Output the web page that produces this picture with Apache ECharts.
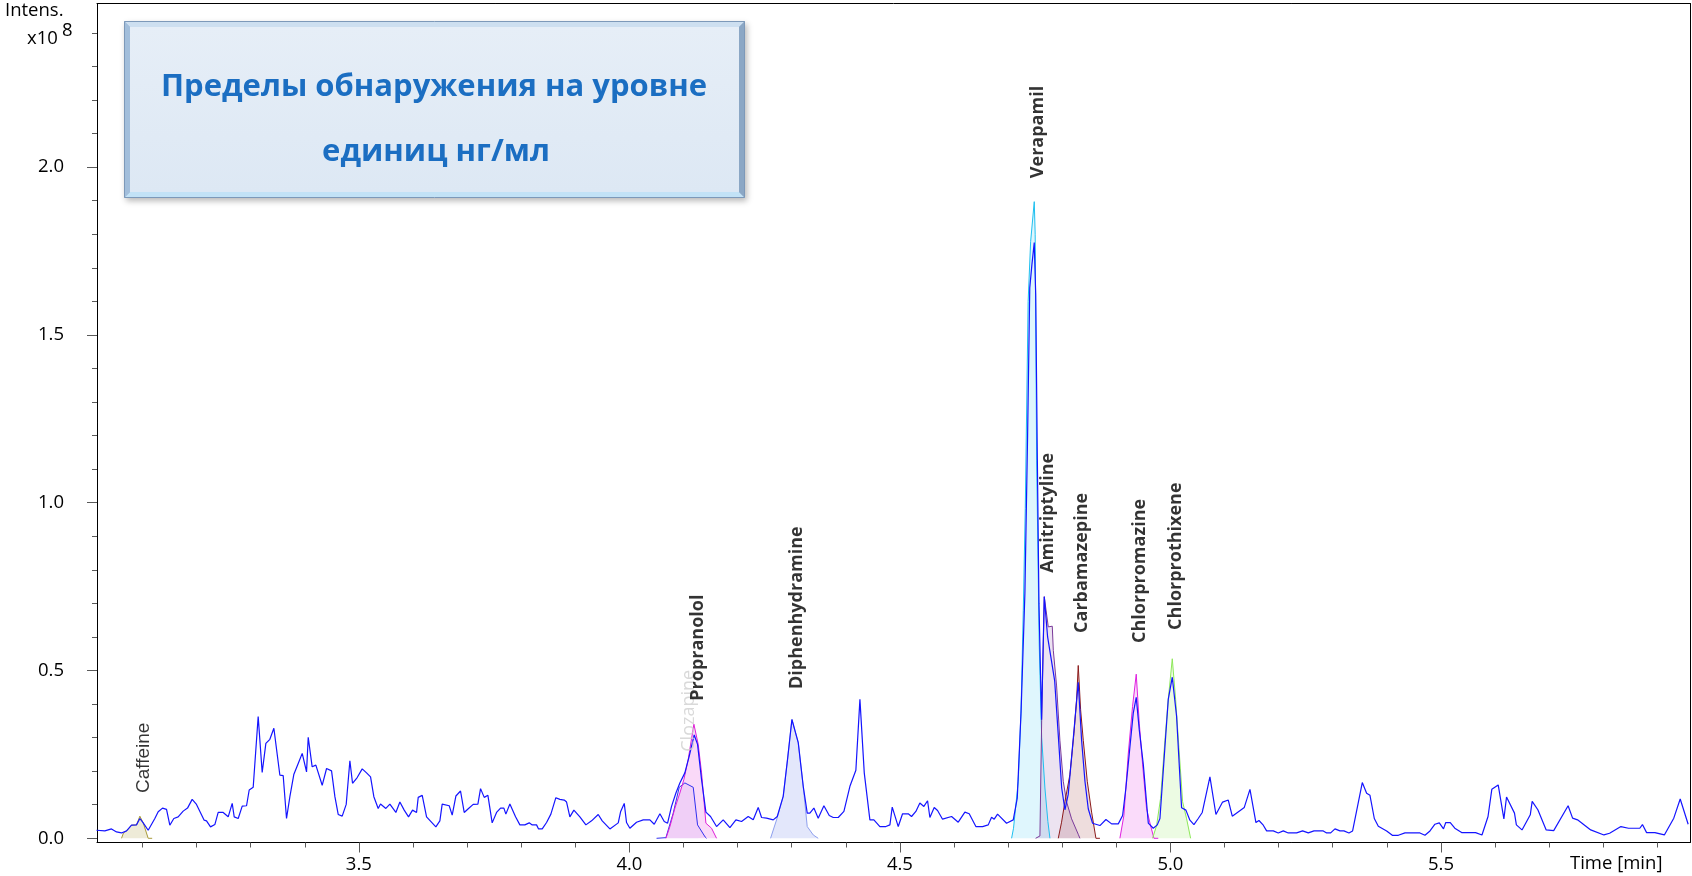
<!DOCTYPE html>
<html>
<head>
<meta charset="utf-8">
<script src="https://cdn.jsdelivr.net/npm/echarts@6/dist/echarts.min.js"></script>
<style>
  html, body { margin: 0; padding: 0; background: #ffffff; }
  #chart { width: 1692px; height: 876px; }
</style>
</head>
<body>
<div id="chart"></div>
<script>
// Total ion chromatogram: retention time [min] and intensity [x10^8]
const ticTime = [
  3.0151, 3.0305, 3.0428, 3.0521, 3.0613, 3.0706, 3.0798, 3.0890, 3.0952, 3.1014,
  3.1106, 3.1229, 3.1291, 3.1371, 3.1445, 3.1506, 3.1580, 3.1660, 3.1753, 3.1833,
  3.1919, 3.1999, 3.2141, 3.2184, 3.2258, 3.2338, 3.2400, 3.2492, 3.2585, 3.2659,
  3.2696, 3.2770, 3.2844, 3.2924, 3.2973, 3.3047, 3.3139, 3.3213, 3.3281, 3.3355,
  3.3429, 3.3540, 3.3601, 3.3663, 3.3725, 3.3799, 3.3879, 3.3953, 3.4033, 3.4064,
  3.4137, 3.4205, 3.4322, 3.4403, 3.4495, 3.4557, 3.4618, 3.4692, 3.4766, 3.4834,
  3.4883, 3.4969, 3.5062, 3.5142, 3.5216, 3.5277, 3.5357, 3.5400, 3.5499, 3.5573,
  3.5684, 3.5758, 3.5838, 3.5918, 3.5992, 3.6066, 3.6097, 3.6171, 3.6251, 3.6423,
  3.6497, 3.6540, 3.6670, 3.6725, 3.6793, 3.6879, 3.6947, 3.7027, 3.7113, 3.7200,
  3.7249, 3.7317, 3.7385, 3.7464, 3.7545, 3.7619, 3.7680, 3.7717, 3.7791, 3.7896,
  3.7976, 3.8068, 3.8149, 3.8204, 3.8284, 3.8321, 3.8389, 3.8469, 3.8549, 3.8641,
  3.8715, 3.8796, 3.8839, 3.8900, 3.8974, 3.9085, 3.9196, 3.9301, 3.9424, 3.9498,
  3.9640, 3.9794, 3.9837, 3.9905, 3.9947, 4.0009, 4.0132, 4.0256, 4.0379, 4.0459,
  4.0564, 4.0644, 4.0706, 4.0779, 4.0860, 4.0933, 4.1025, 4.1106, 4.1198, 4.1260,
  4.1334, 4.1414, 4.1500, 4.1611, 4.1734, 4.1858, 4.1969, 4.2073, 4.2196, 4.2289,
  4.2381, 4.2443, 4.2535, 4.2659, 4.2733, 4.2843, 4.2923, 4.3004, 4.3121, 4.3213,
  4.3287, 4.3336, 4.3410, 4.3490, 4.3595, 4.3694, 4.3768, 4.3860, 4.3965, 4.4076,
  4.4186, 4.4261, 4.4341, 4.4445, 4.4519, 4.4630, 4.4741, 4.4815, 4.4858, 4.4969,
  4.5049, 4.5154, 4.5215, 4.5295, 4.5369, 4.5443, 4.5511, 4.5554, 4.5634, 4.5696,
  4.5788, 4.5955, 4.6078, 4.6201, 4.6281, 4.6404, 4.6528, 4.6633, 4.6694, 4.6743,
  4.6805, 4.6971, 4.7095, 4.7169, 4.7240, 4.7310, 4.7360, 4.7400, 4.7440, 4.7483,
  4.7510, 4.7540, 4.7570, 4.7618, 4.7668, 4.7730, 4.7800, 4.7860, 4.7930, 4.7990,
  4.8050, 4.8110, 4.8173, 4.8235, 4.8296, 4.8358, 4.8420, 4.8481, 4.8560, 4.8697,
  4.8808, 4.8913, 4.9036, 4.9116, 4.9177, 4.9251, 4.9313, 4.9368, 4.9424, 4.9498,
  4.9591, 4.9683, 4.9757, 4.9806, 4.9898, 4.9960, 5.0034, 5.0114, 5.0206, 5.0286,
  5.0360, 5.0434, 5.0514, 5.0588, 5.0730, 5.0841, 5.0964, 5.1069, 5.1143, 5.1365,
  5.1470, 5.1580, 5.1636, 5.1716, 5.1778, 5.1901, 5.1993, 5.2086, 5.2178, 5.2332,
  5.2443, 5.2548, 5.2653, 5.2825, 5.2887, 5.2961, 5.3041, 5.3133, 5.3207, 5.3299,
  5.3367, 5.3546, 5.3626, 5.3688, 5.3768, 5.3842, 5.3996, 5.4101, 5.4212, 5.4335,
  5.4612, 5.4704, 5.4797, 5.4889, 5.4969, 5.5047, 5.5089, 5.5172, 5.5256, 5.5382,
  5.5640, 5.5758, 5.5870, 5.5940, 5.6058, 5.6163, 5.6212, 5.6359, 5.6394, 5.6498,
  5.6651, 5.6686, 5.6791, 5.6945, 5.7084, 5.7350, 5.7433, 5.7524, 5.7768, 5.8012,
  5.8117, 5.8326, 5.8466, 5.8675, 5.8724, 5.8801, 5.8954, 5.9129, 5.9303, 5.9422,
  5.9569
];
const ticIntensity = [
  0.024, 0.022, 0.028, 0.019, 0.016, 0.022, 0.039, 0.040, 0.059, 0.046,
  0.024, 0.059, 0.079, 0.090, 0.086, 0.039, 0.059, 0.064, 0.081, 0.090,
  0.116, 0.101, 0.054, 0.052, 0.034, 0.041, 0.077, 0.077, 0.064, 0.104,
  0.064, 0.059, 0.096, 0.097, 0.144, 0.152, 0.363, 0.196, 0.283, 0.295,
  0.328, 0.188, 0.187, 0.059, 0.124, 0.191, 0.223, 0.253, 0.198, 0.301,
  0.213, 0.218, 0.158, 0.208, 0.201, 0.124, 0.071, 0.066, 0.101, 0.231,
  0.164, 0.181, 0.207, 0.195, 0.183, 0.124, 0.089, 0.102, 0.089, 0.102,
  0.077, 0.108, 0.084, 0.064, 0.084, 0.077, 0.122, 0.128, 0.064, 0.034,
  0.052, 0.102, 0.097, 0.069, 0.126, 0.141, 0.077, 0.089, 0.101, 0.102,
  0.148, 0.122, 0.128, 0.046, 0.077, 0.090, 0.090, 0.072, 0.102, 0.064,
  0.040, 0.040, 0.046, 0.040, 0.040, 0.028, 0.028, 0.047, 0.072, 0.121,
  0.116, 0.114, 0.108, 0.064, 0.084, 0.064, 0.040, 0.052, 0.071, 0.052,
  0.028, 0.046, 0.079, 0.104, 0.047, 0.030, 0.048, 0.055, 0.055, 0.042,
  0.073, 0.050, 0.045, 0.095, 0.135, 0.165, 0.195, 0.245, 0.308, 0.280,
  0.175, 0.078, 0.065, 0.035, 0.055, 0.032, 0.055, 0.050, 0.065, 0.055,
  0.092, 0.062, 0.060, 0.055, 0.065, 0.125, 0.235, 0.354, 0.285, 0.155,
  0.075, 0.075, 0.090, 0.060, 0.097, 0.068, 0.062, 0.062, 0.080, 0.155,
  0.203, 0.414, 0.195, 0.055, 0.055, 0.035, 0.035, 0.040, 0.093, 0.035,
  0.073, 0.073, 0.065, 0.080, 0.105, 0.095, 0.112, 0.062, 0.092, 0.083,
  0.057, 0.065, 0.048, 0.078, 0.073, 0.035, 0.035, 0.040, 0.063, 0.057,
  0.072, 0.045, 0.055, 0.120, 0.380, 0.730, 1.200, 1.640, 1.710, 1.775,
  1.620, 1.130, 0.700, 0.353, 0.720, 0.600, 0.530, 0.470, 0.300, 0.150,
  0.085, 0.130, 0.241, 0.353, 0.465, 0.292, 0.170, 0.088, 0.045, 0.038,
  0.056, 0.043, 0.043, 0.068, 0.150, 0.272, 0.373, 0.420, 0.323, 0.221,
  0.045, 0.030, 0.040, 0.059, 0.272, 0.414, 0.480, 0.363, 0.091, 0.084,
  0.054, 0.041, 0.059, 0.077, 0.183, 0.071, 0.108, 0.114, 0.066, 0.092,
  0.146, 0.047, 0.053, 0.039, 0.022, 0.022, 0.016, 0.022, 0.016, 0.016,
  0.022, 0.016, 0.022, 0.022, 0.016, 0.016, 0.028, 0.022, 0.022, 0.016,
  0.022, 0.166, 0.134, 0.128, 0.059, 0.036, 0.022, 0.009, 0.009, 0.016,
  0.016, 0.009, 0.022, 0.042, 0.046, 0.028, 0.047, 0.047, 0.030, 0.017,
  0.017, 0.010, 0.065, 0.146, 0.159, 0.058, 0.123, 0.075, 0.040, 0.025,
  0.070, 0.110, 0.085, 0.025, 0.023, 0.097, 0.060, 0.055, 0.025, 0.010,
  0.015, 0.035, 0.030, 0.030, 0.041, 0.017, 0.017, 0.010, 0.060, 0.117,
  0.042
];

// Extracted ion chromatograms of the identified compounds
const caffeineTime = [3.0613, 3.0650, 3.0706, 3.0798, 3.0890, 3.0952, 3.1014, 3.1106, 3.1180];
const caffeineIntensity = [0.000, 0.016, 0.022, 0.039, 0.040, 0.066, 0.046, 0.000, 0.000];

const clozapineTime = [4.0502, 4.0675, 4.0810, 4.0921, 4.1026, 4.1180, 4.1260, 4.1400, 4.1426];
const clozapineIntensity = [0.000, 0.002, 0.075, 0.152, 0.165, 0.152, 0.040, 0.004, 0.000];

const propranololTime = [4.0675, 4.0749, 4.0841, 4.0933, 4.1007, 4.1087, 4.1192, 4.1272, 4.1334, 4.1414, 4.1519, 4.1611];
const propranololIntensity = [0.000, 0.035, 0.090, 0.135, 0.175, 0.235, 0.340, 0.280, 0.195, 0.045, 0.030, 0.000];

const diphenhydramineTime = [4.2609, 4.2720, 4.2843, 4.2923, 4.3004, 4.3121, 4.3213, 4.3287, 4.3398, 4.3490];
const diphenhydramineIntensity = [0.000, 0.055, 0.125, 0.235, 0.354, 0.285, 0.155, 0.035, 0.010, 0.000];

const verapamilTime = [4.7064, 4.7100, 4.7187, 4.7237, 4.7280, 4.7317, 4.7370, 4.7416, 4.7483, 4.7500, 4.7527, 4.7575, 4.7620, 4.7680, 4.7735, 4.7773];
const verapamilIntensity = [0.000, 0.030, 0.170, 0.373, 0.678, 0.983, 1.600, 1.778, 1.897, 1.800, 1.127, 0.576, 0.300, 0.150, 0.050, 0.000];

const amitriptylineTime = [4.7508, 4.7588, 4.7620, 4.7668, 4.7742, 4.7816, 4.7835, 4.7896, 4.7957, 4.8019, 4.8080, 4.8173, 4.8296, 4.8327];
const amitriptylineIntensity = [0.000, 0.007, 0.350, 0.720, 0.630, 0.632, 0.560, 0.454, 0.292, 0.170, 0.109, 0.058, 0.012, 0.000];

const carbamazepineTime = [4.7927, 4.7988, 4.8050, 4.8142, 4.8216, 4.8266, 4.8296, 4.8340, 4.8389, 4.8463, 4.8543, 4.8623, 4.8697];
const carbamazepineIntensity = [0.000, 0.048, 0.109, 0.190, 0.312, 0.414, 0.515, 0.383, 0.292, 0.170, 0.078, 0.000, 0.000];

const chlorpromazineTime = [4.9066, 4.9140, 4.9220, 4.9300, 4.9368, 4.9424, 4.9485, 4.9559, 4.9633, 4.9695, 4.9775];
const chlorpromazineIntensity = [0.000, 0.068, 0.251, 0.393, 0.489, 0.343, 0.221, 0.088, 0.038, 0.000, 0.000];

const chlorprothixeneTime = [4.9670, 4.9744, 4.9818, 4.9898, 4.9960, 5.0034, 5.0096, 5.0157, 5.0225, 5.0299, 5.0373];
const chlorprothixeneIntensity = [0.000, 0.038, 0.119, 0.292, 0.414, 0.535, 0.414, 0.270, 0.109, 0.058, 0.000];

// Compound annotations: name, retention time and the level where the text starts
const peakNames = ['Caffeine', 'Clozapine', 'Propranolol', 'Diphenhydramine', 'Verapamil',
                   'Amitriptyline', 'Carbamazepine', 'Chlorpromazine', 'Chlorprothixene'];
const peakLabelTimes = [3.1026, 4.1100, 4.1266, 4.3096, 4.7550, 4.7736, 4.8364, 4.9436, 5.0102];
const peakLabelLevels = [0.135, 0.258, 0.410, 0.445, 1.967, 0.791, 0.612, 0.582, 0.621];

// Axis ticks
const xMajorTicks = [3.5, 4.0, 4.5, 5.0, 5.5];
const xMinorTicks = [3.1, 3.2, 3.3, 3.4, 3.6, 3.7, 3.8, 3.9, 4.1, 4.2, 4.3, 4.4, 4.6, 4.7, 4.8, 4.9,
                     5.1, 5.2, 5.3, 5.4, 5.6, 5.7, 5.8, 5.9];
const yMajorTicks = [0.0, 0.5, 1.0, 1.5, 2.0];
const yMinorTicks = [0.1, 0.2, 0.3, 0.4, 0.6, 0.7, 0.8, 0.9, 1.1, 1.2, 1.3, 1.4, 1.6, 1.7, 1.8, 1.9,
                     2.1, 2.2, 2.3, 2.4];

const X_MIN = 3.016, X_MAX = 5.9603;
const Y_MIN = -0.0125, Y_MAX = 2.4875;

const FONT = "'Open Sans', 'DejaVu Sans', sans-serif";
const pairs = (ts, vs) => ts.map((t, i) => [t, vs[i]]);

function eicSeries(name, ts, vs, color, fillOpacity) {
  return {
    name: name,
    type: 'line',
    xAxisIndex: 0,
    yAxisIndex: 0,
    data: pairs(ts, vs),
    showSymbol: false,
    symbol: 'none',
    z: 2,
    lineStyle: { color: color, width: 1 },
    areaStyle: { color: color, opacity: fillOpacity },
    silent: true
  };
}

const peakLabelStyle = {
  Caffeine: { fontWeight: 'normal', color: '#000000', fontSize: 19,
              fontFamily: "'Liberation Sans', Arial, sans-serif", textBorderWidth: 0 },
  Clozapine: { fontWeight: 'normal', color: '#cfcfcf', textBorderWidth: 0 }
};

const chart = echarts.init(document.getElementById('chart'), null, { renderer: 'canvas' });

const box = { x: 124, y: 21, w: 621, h: 177, b: 6 };
const bx2 = box.x + box.w, by2 = box.y + box.h;

chart.setOption({
  animation: false,
  backgroundColor: '#ffffff',
  grid: { left: 97, right: 2, top: 3.5, bottom: 33.5, containLabel: false },
  xAxis: [
    {
      type: 'value', min: X_MIN, max: X_MAX, position: 'bottom',
      axisLine: { show: true, onZero: false, lineStyle: { color: '#000000', width: 1 } },
      axisTick: { show: true, customValues: xMajorTicks, length: 10, lineStyle: { color: '#5a5a5a' } },
      axisLabel: {
        show: true, customValues: xMajorTicks, margin: 13,
        formatter: v => v.toFixed(1), fontFamily: FONT, fontSize: 18.5, color: '#000000'
      },
      splitLine: { show: false }
    },
    {
      type: 'value', min: X_MIN, max: X_MAX, position: 'bottom',
      axisLine: { show: false, onZero: false },
      axisTick: { show: true, customValues: xMinorTicks, length: 5, lineStyle: { color: '#5a5a5a' } },
      axisLabel: { show: false },
      splitLine: { show: false }
    },
    {
      type: 'value', min: X_MIN, max: X_MAX, position: 'top',
      axisLine: { show: true, onZero: false, lineStyle: { color: '#000000', width: 1 } },
      axisTick: { show: false }, axisLabel: { show: false }, splitLine: { show: false }
    }
  ],
  yAxis: [
    {
      type: 'value', min: Y_MIN, max: Y_MAX, position: 'left',
      axisLine: { show: true, onZero: false, lineStyle: { color: '#000000', width: 1 } },
      axisTick: { show: true, customValues: yMajorTicks, length: 10, lineStyle: { color: '#5a5a5a' } },
      axisLabel: {
        show: true, customValues: yMajorTicks, margin: 33,
        formatter: v => v.toFixed(1), fontFamily: FONT, fontSize: 18.5, color: '#000000'
      },
      splitLine: { show: false }
    },
    {
      type: 'value', min: Y_MIN, max: Y_MAX, position: 'left',
      axisLine: { show: false, onZero: false },
      axisTick: { show: true, customValues: yMinorTicks, length: 5, lineStyle: { color: '#5a5a5a' } },
      axisLabel: { show: false },
      splitLine: { show: false }
    },
    {
      type: 'value', min: Y_MIN, max: Y_MAX, position: 'right',
      axisLine: { show: true, onZero: false, lineStyle: { color: '#000000', width: 1 } },
      axisTick: { show: false }, axisLabel: { show: false }, splitLine: { show: false }
    }
  ],
  series: [
    eicSeries('Caffeine', caffeineTime, caffeineIntensity, '#a89a3a', 0.2),
    eicSeries('Clozapine', clozapineTime, clozapineIntensity, '#3030f0', 0.06),
    eicSeries('Propranolol', propranololTime, propranololIntensity, '#e020d8', 0.17),
    eicSeries('Diphenhydramine', diphenhydramineTime, diphenhydramineIntensity, '#8ea0ee', 0.25),
    eicSeries('Verapamil', verapamilTime, verapamilIntensity, '#1ec0f0', 0.14),
    eicSeries('Amitriptyline', amitriptylineTime, amitriptylineIntensity, '#7a3a9a', 0.14),
    eicSeries('Carbamazepine', carbamazepineTime, carbamazepineIntensity, '#8b1a1a', 0.15),
    eicSeries('Chlorpromazine', chlorpromazineTime, chlorpromazineIntensity, '#e020e0', 0.16),
    eicSeries('Chlorprothixene', chlorprothixeneTime, chlorprothixeneIntensity, '#8ee85a', 0.17),
    {
      name: 'TIC',
      type: 'line',
      xAxisIndex: 0, yAxisIndex: 0,
      data: pairs(ticTime, ticIntensity),
      showSymbol: false, symbol: 'none',
      z: 3,
      lineStyle: { color: '#1414ff', width: 1.2 },
      silent: true
    },
    {
      name: 'peak labels',
      type: 'scatter',
      xAxisIndex: 0, yAxisIndex: 0,
      symbolSize: 1,
      itemStyle: { color: 'rgba(0,0,0,0)' },
      z: 4,
      silent: true,
      data: peakNames.map((n, i) => ({
        name: n,
        value: [peakLabelTimes[i], peakLabelLevels[i]],
        label: peakLabelStyle[n] || {}
      })),
      label: {
        show: true,
        formatter: p => p.name,
        position: 'inside',
        rotate: 90,
        align: 'left',
        verticalAlign: 'middle',
        fontFamily: FONT,
        fontWeight: 'bold',
        fontSize: 18,
        color: '#000000',
        textBorderWidth: 0
      }
    }
  ],
  graphic: [
    // axis titles
    { type: 'text', left: 5, top: 1, style: { text: 'Intens.', font: "18.5px " + FONT, fill: '#000000' } },
    { type: 'text', left: 27, top: 29, style: { text: 'x10', font: "18.5px " + FONT, fill: '#000000' } },
    { type: 'text', left: 62, top: 21, style: { text: '8', font: "18.5px " + FONT, fill: '#000000' } },
    { type: 'text', left: 1570, top: 854, style: { text: 'Time [min]', font: "18.5px " + FONT, fill: '#000000' } },
    // caption panel with bevelled edge
    {
      type: 'group', z: 10,
      children: [
        { type: 'rect', shape: { x: box.x, y: box.y, width: box.w, height: box.h },
          style: { fill: '#9fbad6', shadowBlur: 6, shadowOffsetX: 2, shadowOffsetY: 3, shadowColor: 'rgba(0,0,0,0.28)' } },
        { type: 'polygon', shape: { points: [[box.x, box.y], [bx2, box.y], [bx2 - box.b, box.y + box.b], [box.x + box.b, box.y + box.b]] },
          style: { fill: '#cddff0' } },
        { type: 'polygon', shape: { points: [[box.x, by2], [bx2, by2], [bx2 - box.b, by2 - box.b], [box.x + box.b, by2 - box.b]] },
          style: { fill: '#c2e2f6' } },
        { type: 'polygon', shape: { points: [[box.x, box.y], [box.x + box.b, box.y + box.b], [box.x + box.b, by2 - box.b], [box.x, by2]] },
          style: { fill: '#a2bedb' } },
        { type: 'polygon', shape: { points: [[bx2, box.y], [bx2 - box.b, box.y + box.b], [bx2 - box.b, by2 - box.b], [bx2, by2]] },
          style: { fill: '#8ba7c5' } },
        { type: 'rect', shape: { x: box.x + box.b, y: box.y + box.b, width: box.w - 2 * box.b, height: box.h - 2 * box.b },
          style: { fill: new echarts.graphic.LinearGradient(0, 0, 0, 1, [
            { offset: 0, color: '#e6eef7' }, { offset: 1, color: '#dde8f4' }]) } },
        { type: 'rect', shape: { x: box.x + 0.5, y: box.y + 0.5, width: box.w - 1, height: box.h - 1 },
          style: { fill: 'none', stroke: '#7d99b9', lineWidth: 1 } },
        { type: 'text', x: 434, y: 87,
          style: { text: 'Пределы обнаружения на уровне', font: "bold 31px " + FONT, fill: '#1b6ec2',
                   textAlign: 'center', textVerticalAlign: 'middle' } },
        { type: 'text', x: 436, y: 152,
          style: { text: 'единиц нг/мл', font: "bold 31px " + FONT, fill: '#1b6ec2',
                   textAlign: 'center', textVerticalAlign: 'middle' } }
      ]
    }
  ]
});
</script>
</body>
</html>
